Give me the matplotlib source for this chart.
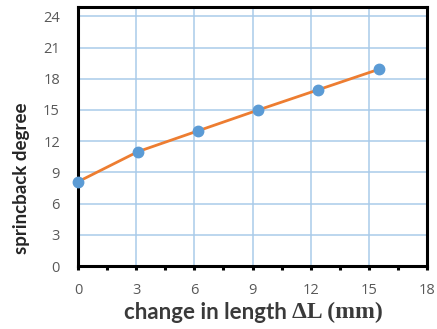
import matplotlib
matplotlib.use("Agg")
import matplotlib.pyplot as plt
from matplotlib.ticker import MultipleLocator

delta_L = [0.0, 3.1, 6.2, 9.3, 12.4, 15.5]
springback = [8.1, 11.0, 13.0, 15.0, 16.95, 18.9]
x_ticks = [0, 3, 6, 9, 12, 15, 18]
y_ticks = [0, 3, 6, 9, 12, 15, 18, 21, 24]

fig = plt.figure(figsize=(4.37, 3.29), dpi=100)
ax = fig.add_axes([78/437, 63/329, 349/437, 259/329])

ax.plot(delta_L, springback, color="#ED7D31", lw=2.0, zorder=3, clip_on=False)
ax.plot(delta_L, springback, "o", color="#5B9BD5", ms=7.5, zorder=4, clip_on=False)

ax.set_xlim(0, 18)
ax.set_ylim(0, 24.9)
ax.set_xticks(x_ticks)
ax.set_yticks(y_ticks)
ax.xaxis.set_minor_locator(MultipleLocator(1.5))
ax.grid(True, which="major", color="#A9CBEA", lw=1.1, zorder=0)
ax.set_axisbelow(True)

for s in ax.spines.values():
    s.set_linewidth(2.2)
    s.set_color("black")

ax.tick_params(axis="x", which="major", direction="out", length=3, width=2.2,
               labelsize=10.5, labelcolor="#595959", pad=9)
ax.tick_params(axis="x", which="minor", direction="out", length=3, width=2.2)
ax.tick_params(axis="y", which="major", length=0, labelsize=10.5,
               labelcolor="#595959", pad=13)
for lab in ax.get_xticklabels() + ax.get_yticklabels():
    lab.set_family("Open Sans")

fig.text(22/437, 151/329, "sprincback degree", fontsize=13.5, fontweight="bold",
         family="Lato", color="#262626", rotation=90, va="center", ha="center")

t1 = fig.text(124/437, 6/329, "change in length ", fontsize=16, fontweight="bold",
              family="Lato", color="#3a3a3a", va="bottom", ha="left")
ax.annotate("\u0394L (mm)", xy=(1, 0), xycoords=t1, va="bottom", ha="left",
            fontsize=17, fontweight="bold", family="Liberation Serif", color="#3a3a3a",
            annotation_clip=False)

fig.savefig("out.png", dpi=100)
